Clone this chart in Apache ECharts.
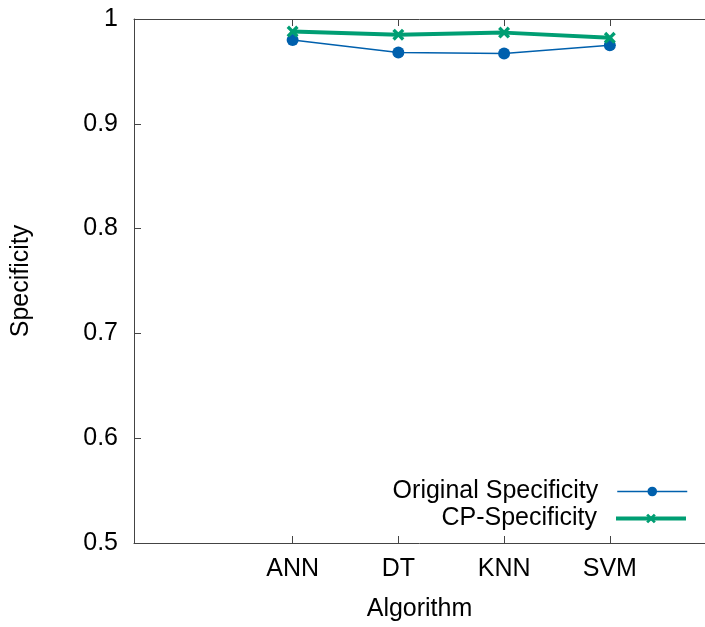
<!DOCTYPE html>
<html lang="en">
<head>
    <meta charset="UTF-8">
    <title>Specificity</title>
    <script src="https://cdn.jsdelivr.net/npm/echarts@6/dist/echarts.min.js"></script>
    <style>
        html, body { margin: 0; padding: 0; background: #fff; }
    </style>
</head>
<body>
    <div id="main" style="width: 705px; height: 627px;"></div>
    <script>
        var algorithms = ['ANN', 'DT', 'KNN', 'SVM'];
        var originalSpec = [0.980, 0.968, 0.967, 0.975];
        var cpSpec = [0.988, 0.985, 0.987, 0.982];
        var yTicks = [0.5, 0.6, 0.7, 0.8, 0.9, 1];

        var positions = algorithms.map(function (a, i) { return i; });
        function pairs(vals) {
            return vals.map(function (v, i) { return [i, v]; });
        }

        var crossPath = 'path://M0,2 L2,0 L5,3 L8,0 L10,2 L7,5 L10,8 L8,10 L5,7 L2,10 L0,8 L3,5 Z';
        var font = 'Liberation Sans, Arial, sans-serif';
        var axisColor = '#444';
        var fs = 25;

        var myChart = echarts.init(document.getElementById('main'));
        var option = {
            animation: false,
            textStyle: { fontFamily: font },
            grid: { left: 134, top: 19, right: 0, bottom: 78 },
            legend: [
                {
                    data: [{ name: 'Original Specificity', lineStyle: { width: 1.5 } }],
                    right: 12, top: 474,
                    align: 'right',
                    itemWidth: 70, itemHeight: 12,
                    textStyle: { fontSize: fs, color: '#000', fontFamily: font, padding: [0, 14, 0, 0] }
                },
                {
                    data: [{ name: 'CP-Specificity', lineStyle: { width: 4 } }],
                    right: 12, top: 501,
                    align: 'right',
                    itemWidth: 70, itemHeight: 12,
                    textStyle: { fontSize: fs, color: '#000', fontFamily: font, padding: [0, 14, 0, 0] }
                }
            ],
            xAxis: [
                {
                    type: 'value',
                    min: -1.5, max: 3.9,
                    name: 'Algorithm',
                    nameLocation: 'middle',
                    nameGap: 54,
                    nameTextStyle: { fontSize: fs, color: '#000', fontFamily: font },
                    splitLine: { show: false },
                    axisLine: { show: true, onZero: false, lineStyle: { color: axisColor, width: 1 } },
                    axisTick: { inside: true, length: 7, customValues: positions, lineStyle: { color: axisColor } },
                    axisLabel: {
                        customValues: positions,
                        fontSize: fs, color: '#000', margin: 14,
                        formatter: function (v) { return algorithms[Math.round(v)]; }
                    }
                },
                {
                    type: 'value',
                    position: 'top',
                    min: -1.5, max: 3.9,
                    splitLine: { show: false },
                    axisLine: { show: true, onZero: false, lineStyle: { color: axisColor, width: 1 } },
                    axisTick: { inside: true, length: 7, customValues: positions, lineStyle: { color: axisColor } },
                    axisLabel: { show: false }
                }
            ],
            yAxis: {
                type: 'value',
                min: 0.5, max: 1, interval: 0.1,
                name: 'Specificity',
                nameLocation: 'middle',
                nameGap: 100,
                nameTextStyle: { fontSize: fs, color: '#000', fontFamily: font },
                splitLine: { show: false },
                axisLine: { show: true, onZero: false, lineStyle: { color: axisColor, width: 1 } },
                axisTick: { inside: true, length: 7, lineStyle: { color: axisColor } },
                axisLabel: {
                    fontSize: fs, color: '#000', margin: 16,
                    formatter: function (v) { return yTicks.indexOf(+v.toFixed(1)) >= 0 ? String(+v.toFixed(1)) : ''; }
                }
            },
            series: [
                {
                    name: 'Original Specificity',
                    type: 'line',
                    data: pairs(originalSpec),
                    symbol: 'circle',
                    symbolSize: 12,
                    itemStyle: { color: '#0060ad' },
                    lineStyle: { color: '#0060ad', width: 1.5 }
                },
                {
                    name: 'CP-Specificity',
                    type: 'line',
                    data: pairs(cpSpec),
                    symbol: crossPath,
                    symbolSize: 12,
                    itemStyle: { color: '#009e73' },
                    lineStyle: { color: '#009e73', width: 4 }
                }
            ]
        };
        myChart.setOption(option);
    </script>
</body>
</html>
